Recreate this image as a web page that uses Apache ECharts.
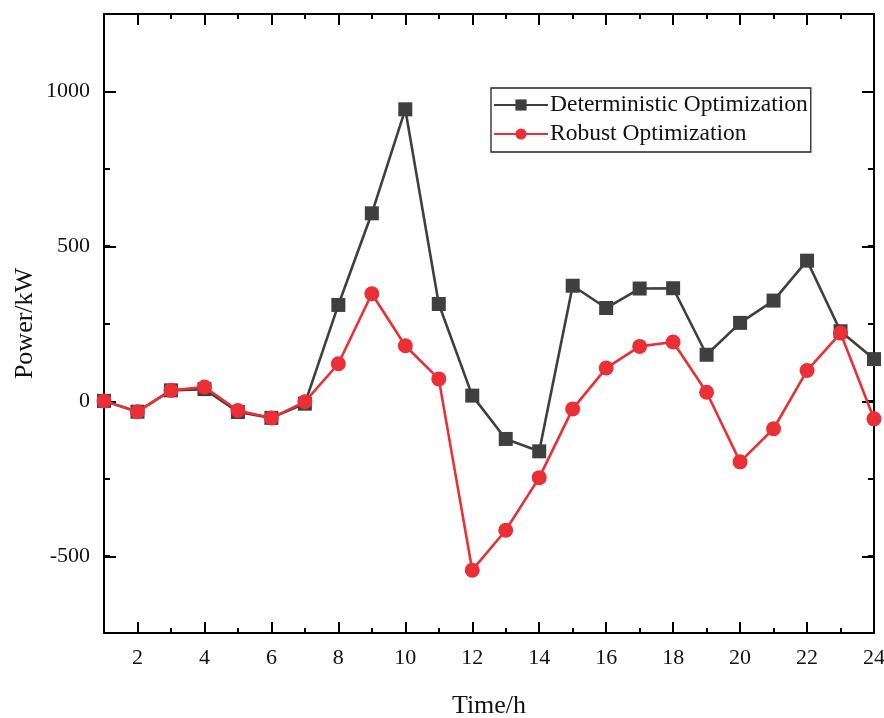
<!DOCTYPE html>
<html>
<head>
<meta charset="utf-8">
<script src="https://cdn.jsdelivr.net/npm/echarts@6/dist/echarts.min.js"></script>
<style>
html, body { margin: 0; padding: 0; background: #fff; }
#main { width: 884px; height: 718px; }
</style>
</head>
<body>
<div id="main"></div>
<script>
// data
var hours = [1, 2, 3, 4, 5, 6, 7, 8, 9, 10, 11, 12, 13, 14, 15, 16, 17, 18, 19, 20, 21, 22, 23, 24];
var deterministic = [0, -35, 34, 38, -36, -55, -9, 310, 606, 942, 313, 17, -123, -163, 372, 300, 363, 364, 149, 252, 324, 453, 225, 135];
var robust = [0, -35, 34, 45, -31, -55, -3, 120, 346, 178, 71, -547, -418, -248, -26, 106, 176, 190, 28, -197, -90, 98, 219, -58];
var seriesNames = ['Deterministic Optimization', 'Robust Optimization'];

var FONT = "'Liberation Serif', 'Times New Roman', serif";

function pairs(vals) {
    return hours.map(function (h, i) { return [h, vals[i]]; });
}

var myChart = echarts.init(document.getElementById('main'));

var axisLine = { show: true, onZero: false, lineStyle: { color: '#000', width: 2 } };
var noLine = { show: false, onZero: false };

var option = {
    backgroundColor: '#fff',
    animation: false,
    grid: [
        // main plot
        { left: 104, right: 10, top: 14, bottom: 85, outerBoundsMode: 'none' },
        // major x ticks 2..24
        { left: 137.5, right: 10, top: 14, bottom: 85, outerBoundsMode: 'none' },
        // major y ticks -500..1000
        { left: 104, right: 10, top: 91.3, bottom: 161.3, outerBoundsMode: 'none' }
    ],
    legend: {
        left: 491,
        top: 88,
        orient: 'vertical',
        data: seriesNames,
        itemWidth: 54,
        itemHeight: 14,
        itemGap: 5,
        padding: [5, 3, 6, 2],
        borderColor: '#222',
        borderWidth: 1.3,
        textStyle: { fontFamily: FONT, fontSize: 23.5, color: '#111', padding: [0, 0, 0, -3] }
    },
    xAxis: [
        {
            gridIndex: 0, type: 'value', min: 1, max: 24, interval: 1,
            name: 'Time/h', nameLocation: 'middle', nameGap: 60,
            nameTextStyle: { fontFamily: FONT, fontSize: 26, color: '#111' },
            axisLine: axisLine,
            axisTick: { inside: true, length: 5, lineStyle: { color: '#000', width: 2 } },
            axisLabel: { show: false },
            splitLine: { show: false }
        },
        {
            gridIndex: 0, type: 'value', position: 'top', min: 1, max: 24, interval: 1,
            axisLine: axisLine,
            axisTick: { inside: true, length: 5, lineStyle: { color: '#000', width: 2 } },
            axisLabel: { show: false },
            splitLine: { show: false }
        },
        {
            gridIndex: 1, type: 'value', min: 2, max: 24, interval: 2,
            axisLine: noLine,
            axisTick: { inside: true, length: 11, lineStyle: { color: '#000', width: 2 } },
            axisLabel: { fontFamily: FONT, fontSize: 22, color: '#111', margin: 14 },
            splitLine: { show: false }
        },
        {
            gridIndex: 1, type: 'value', position: 'top', min: 2, max: 24, interval: 2,
            axisLine: noLine,
            axisTick: { inside: true, length: 11, lineStyle: { color: '#000', width: 2 } },
            axisLabel: { show: false },
            splitLine: { show: false }
        },
        {
            gridIndex: 2, type: 'value', min: 1, max: 24, show: false
        }
    ],
    yAxis: [
        {
            gridIndex: 0, type: 'value', min: -750, max: 1250, interval: 250,
            name: 'Power/kW', nameLocation: 'middle', nameGap: 66,
            nameTextStyle: { fontFamily: FONT, fontSize: 26, color: '#111' },
            axisLine: axisLine,
            axisTick: { inside: true, length: 6, lineStyle: { color: '#000', width: 2 } },
            axisLabel: { show: false },
            splitLine: { show: false }
        },
        {
            gridIndex: 0, type: 'value', position: 'right', min: -750, max: 1250, interval: 250,
            axisLine: axisLine,
            axisTick: { inside: true, length: 6, lineStyle: { color: '#000', width: 2 } },
            axisLabel: { show: false },
            splitLine: { show: false }
        },
        {
            gridIndex: 1, type: 'value', min: -750, max: 1250, show: false
        },
        {
            gridIndex: 2, type: 'value', min: -500, max: 1000, interval: 500,
            axisLine: noLine,
            axisTick: { inside: true, length: 12, lineStyle: { color: '#000', width: 2 } },
            axisLabel: {
                fontFamily: FONT, fontSize: 22, color: '#111', margin: 14,
                formatter: function (v) { return String(v); }
            },
            splitLine: { show: false }
        },
        {
            gridIndex: 2, type: 'value', position: 'right', min: -500, max: 1000, interval: 500,
            axisLine: noLine,
            axisTick: { inside: true, length: 12, lineStyle: { color: '#000', width: 2 } },
            axisLabel: { show: false },
            splitLine: { show: false }
        }
    ],
    series: [
        {
            name: seriesNames[0],
            type: 'line',
            xAxisIndex: 0, yAxisIndex: 0,
            data: pairs(deterministic),
            symbol: 'rect',
            symbolSize: 14,
            color: '#3f3f3f',
            lineStyle: { color: '#3f3f3f', width: 2.6 },
            itemStyle: { color: '#3f3f3f' },
            z: 3
        },
        {
            name: seriesNames[1],
            type: 'line',
            xAxisIndex: 0, yAxisIndex: 0,
            data: pairs(robust),
            symbol: 'circle',
            symbolSize: 15,
            color: '#ea3036',
            lineStyle: { color: '#ea3036', width: 2.6 },
            itemStyle: { color: '#ea3036' },
            z: 4
        }
    ]
};

myChart.setOption(option);
</script>
</body>
</html>
